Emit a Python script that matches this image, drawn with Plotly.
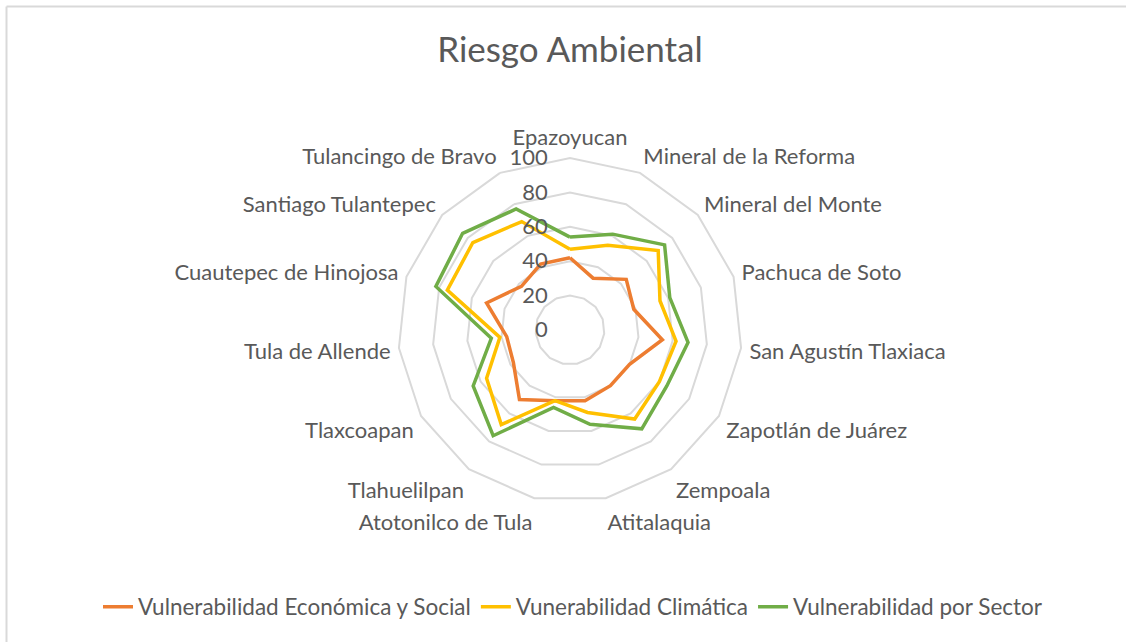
import plotly.graph_objects as go

W, H = 1126, 642

categories = ["Epazoyucan", "Mineral de la Reforma", "Mineral del Monte", "Pachuca de Soto",
              "San Agustín Tlaxiaca", "Zapotlán de Juárez", "Zempoala", "Atitalaquia",
              "Atotonilco de Tula", "Tlahuelilpan", "Tlaxcoapan", "Tula de Allende",
              "Cuautepec de Hinojosa", "Santiago Tulantepec", "Tulancingo de Bravo"]

econ_social = [42, 33, 44, 39, 54, 40, 40, 42, 42, 50, 38, 37, 51, 38, 42]
climatica = [47, 54, 69, 55, 62, 60, 64, 49, 42, 68, 56, 41, 75, 76, 69]
por_sector = [54, 61, 74, 61, 69, 65, 71, 56, 46, 76, 65, 46, 82, 84, 77]

series_names = ["Vulnerabilidad Económica y Social", "Vunerabilidad Climática", "Vulnerabilidad por Sector"]
series_values = [econ_social, climatica, por_sector]
series_colors = ["#ED7D31", "#FFC000", "#70AD47"]

radial_ticks = [0, 20, 40, 60, 80, 100]

FONT = "Lato"
GRAY = "#595959"
GRID = "#d9d9d9"

fig = go.Figure()
for name, vals, col in zip(series_names, series_values, series_colors):
    fig.add_trace(go.Scatterpolar(
        r=vals + vals[:1],
        theta=categories + categories[:1],
        mode="lines",
        name=name,
        line=dict(color=col, width=3.5),
    ))

cx, cy, R = 570, 330, 172
fig.update_layout(
    width=W, height=H,
    margin=dict(l=0, r=0, t=0, b=0),
    paper_bgcolor="white",
    plot_bgcolor="white",
    font=dict(family=FONT, color=GRAY),
    title=dict(text="Riesgo Ambiental", x=cx / W, xanchor="center",
               y=1 - 50 / H, yanchor="middle",
               font=dict(family=FONT, size=35, color=GRAY)),
    polar=dict(
        domain=dict(x=[(cx - R) / W, (cx + R) / W], y=[(H - cy - R) / H, (H - cy + R) / H]),
        bgcolor="white",
        gridshape="linear",
        angularaxis=dict(
            rotation=90, direction="clockwise",
            showgrid=False, showline=True, linecolor=GRID, linewidth=2,
            ticks="outside", ticklen=3, tickcolor="rgba(0,0,0,0)",
            tickfont=dict(family=FONT, size=22, color=GRAY),
        ),
        radialaxis=dict(
            range=[0, 100], tickvals=radial_ticks, ticktext=[str(v) for v in radial_ticks],
            angle=90, side="counterclockwise", tickangle=90,
            showline=False, showgrid=True, gridcolor=GRID, gridwidth=2,
            ticks="outside", ticklen=14, tickcolor="rgba(0,0,0,0)",
            tickfont=dict(family=FONT, size=22, color=GRAY),
        ),
    ),
    legend=dict(orientation="h", x=573 / W, xanchor="center", y=35 / H, yanchor="middle",
                font=dict(family=FONT, size=22.5, color=GRAY),
                bgcolor="rgba(0,0,0,0)"),
    shapes=[
        dict(type="line", xref="paper", yref="paper", x0=6.5 / W, x1=1.0, y0=1 - 6.5 / H, y1=1 - 6.5 / H,
             line=dict(color=GRID, width=2)),
        dict(type="line", xref="paper", yref="paper", x0=6.5 / W, x1=6.5 / W, y0=0, y1=1 - 6.5 / H,
             line=dict(color=GRID, width=2)),
    ],
)

fig.write_html("out.html", config={"displayModeBar": False},
               post_script="document.body.style.margin='0';document.body.style.padding='0';")
